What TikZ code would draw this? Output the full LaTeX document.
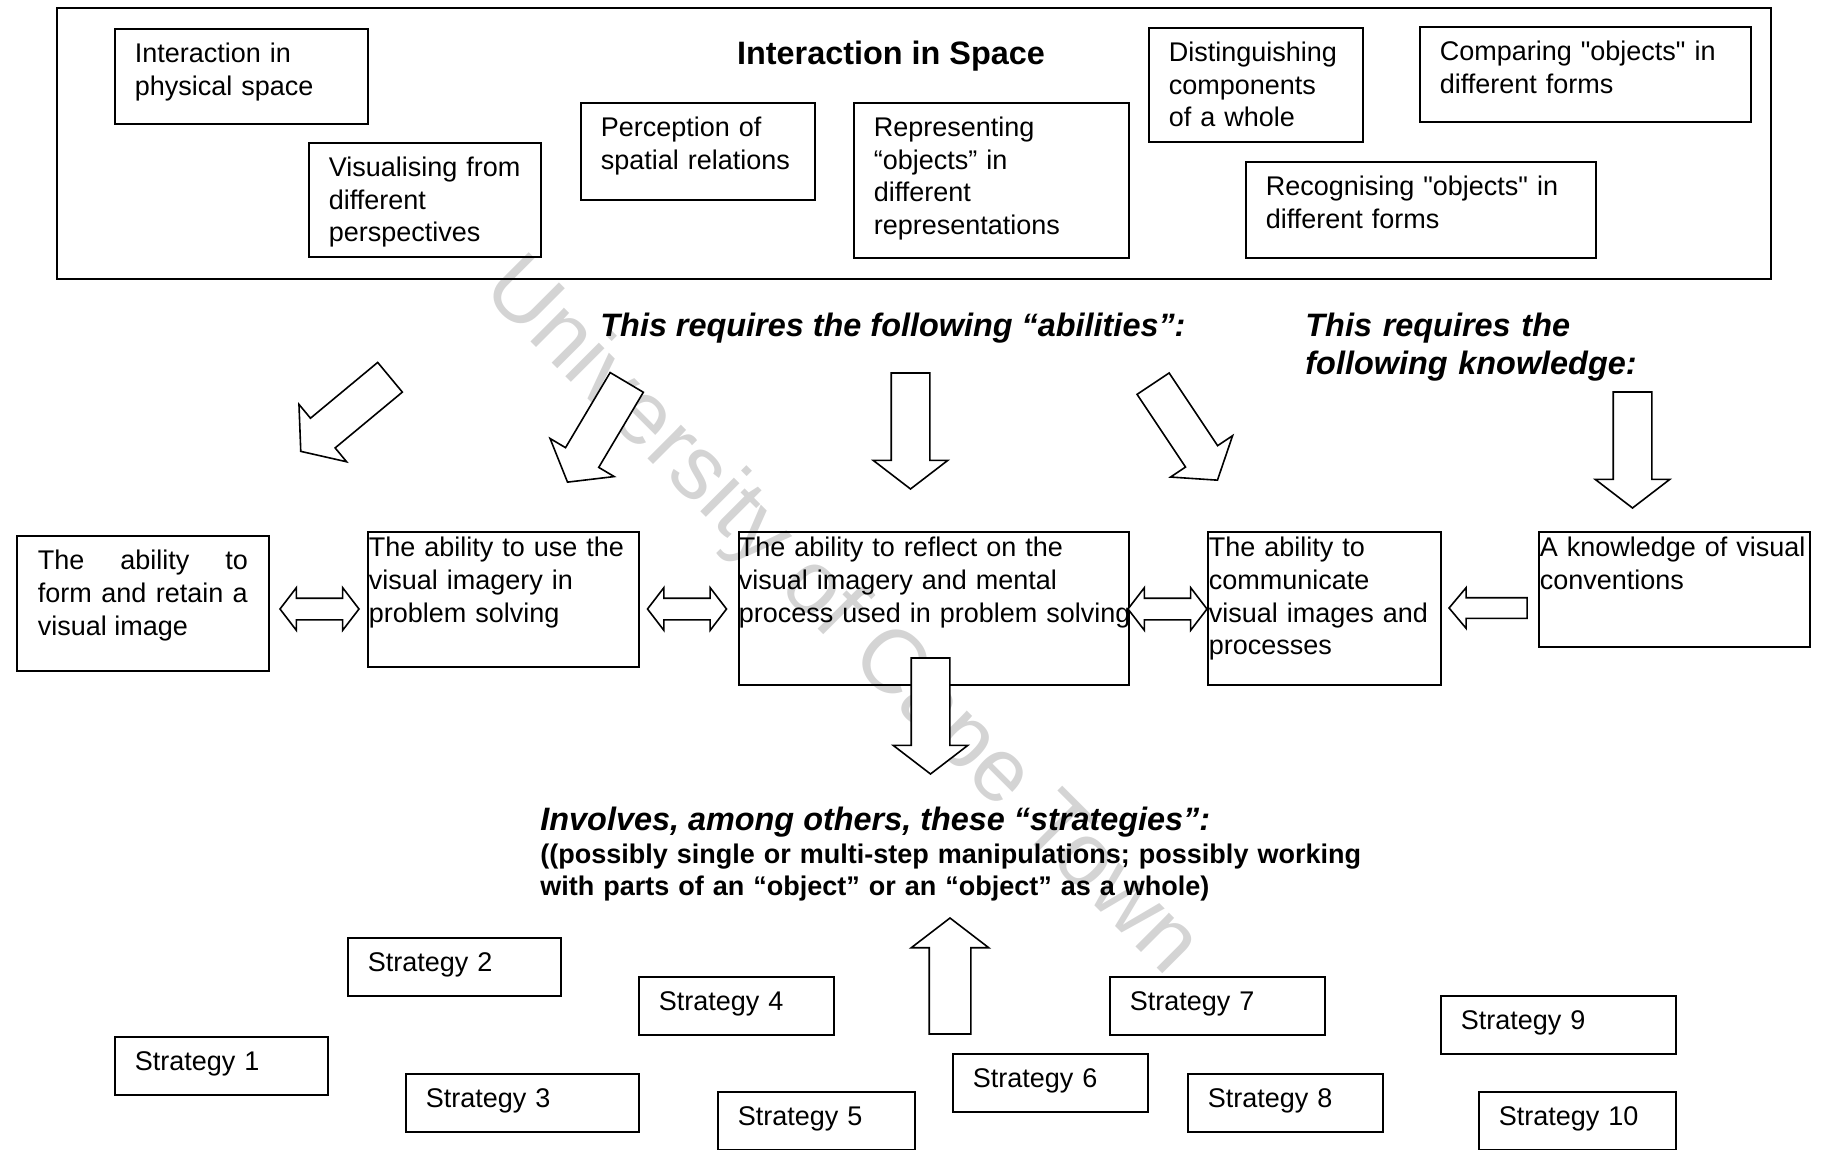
\documentclass[tikz,border=0pt]{standalone}
\usepackage{fontspec}
\setmainfont{Liberation Sans}
\usepackage{tikz}
\usetikzlibrary{shapes.arrows}
\tikzstyle{spaceframe} = [rectangle, draw=black, line width=0.8pt, minimum width=857pt, minimum height=135.5pt, anchor=north west]
\tikzstyle{topbox} = [rectangle, draw=black, line width=0.8pt, anchor=north west, align=left, inner xsep=10pt, inner ysep=7pt, text height=10pt]
\tikzstyle{abilitybox} = [rectangle, draw=black, line width=0.8pt, anchor=north west, align=left, inner xsep=0.5pt, inner ysep=2.5pt, text height=10pt]
\tikzstyle{strategybox} = [topbox, text depth=5pt]
\tikzstyle{heading} = [font=\bfseries\itshape\fontsize{16.2}{19}\selectfont, inner sep=0pt]
\tikzstyle{bigarrow} = [single arrow, draw=black, fill=white, line width=0.8pt, anchor=tip, minimum height=58pt, inner xsep=0pt, inner ysep=9.25pt, single arrow head extend=9pt, single arrow tip angle=105]
\tikzstyle{twoway} = [double arrow, draw=black, fill=white, line width=0.8pt, minimum height=39.5pt, inner xsep=0pt, inner ysep=5pt, double arrow head extend=5.25pt, double arrow tip angle=105]
\tikzstyle{oneway} = [single arrow, draw=black, fill=white, line width=0.8pt, anchor=tip, minimum height=39pt, inner xsep=0pt, inner ysep=4.75pt, single arrow head extend=5pt, single arrow tip angle=100]

\begin{document}
\begin{tikzpicture}[x=0.5pt, y=-0.5pt, font=\fontsize{13.5}{16.3}\selectfont]
\useasboundingbox (0,0) rectangle (1825,1150);
\node (watermark) [rotate=-45, text=black!17, font=\fontsize{45}{45}\selectfont] at (840,618) {University of Cape Town};
\node (space) [spaceframe] at (56,7) {};
\node (title) [font=\bfseries\fontsize{16.2}{19}\selectfont, anchor=base, inner sep=0pt] at (891,65) {Interaction in Space};
\node (physical) [topbox, text width=106.5pt, text depth=23.5pt] at (114,28) {Interaction in\\physical space};
\node (perspectives) [topbox, text width=96pt, text depth=33pt] at (308,142) {Visualising from\\different\\perspectives};
\node (perception) [topbox, text width=97pt, text depth=24.5pt] at (580,102) {Perception of\\spatial relations};
\node (representing) [topbox, text width=117.5pt, text depth=53.5pt] at (853,102) {Representing\\“objects” in\\different\\representations};
\node (components) [topbox, text width=87pt, text depth=33pt] at (1148,27) {Distinguishing\\components\\of a whole};
\node (comparing) [topbox, text width=145.5pt, text depth=23.5pt] at (1419,26) {Comparing \textquotedbl objects\textquotedbl\ in\\different forms};
\node (recognising) [topbox, text width=155pt, text depth=24pt] at (1245,161) {Recognising \textquotedbl objects\textquotedbl\ in\\different forms};

\node (abilhead) [heading, anchor=base west] at (600,336) {This requires the following “abilities”:};
\node (knowhead) [heading, anchor=north west, text width=180pt, text height=12pt] at (1305,312) {This requires the\\following knowledge:};

\node (formimage) [topbox, align=justify, inner xsep=10.5pt, text width=105pt, text depth=43.5pt] at (16,535) {The ability to\linebreak form and retain a\linebreak visual image};
\node (useimagery) [abilitybox, text width=134.5pt, text depth=52.5pt] at (367,531) {The ability to use the\\visual imagery in\\problem solving};
\node (reflect) [abilitybox, inner xsep=0pt, text width=195pt, text depth=61.5pt] at (738,531) {The ability to reflect on the\\visual imagery and mental\\\mbox{process used in problem solving}};
\node (communicate) [abilitybox, text width=115.5pt, text depth=61.5pt] at (1207,531) {The ability to\\communicate\\visual images and\\processes};
\node (conventions) [abilitybox, text width=134.5pt, text depth=42.5pt] at (1538,531) {A knowledge of visual\\conventions};

\node (toform) [bigarrow, rotate=-140.3] at (300,452) {};
\node (touse) [bigarrow, rotate=-120.7] at (567,483) {};
\node (toreflect) [bigarrow, rotate=-90] at (910.5,490) {};
\node (tocomm) [bigarrow, rotate=-56.3] at (1218,481) {};
\node (toconv) [bigarrow, rotate=-90] at (1632.5,509) {};
\node (formuse) [twoway] at (319.5,609) {};
\node (usereflect) [twoway] at (687,609) {};
\node (reflectcomm) [twoway] at (1167.5,609) {};
\node (convcomm) [oneway, rotate=180] at (1448,608) {};
\node (tostrat) [bigarrow, rotate=-90] at (930.5,775) {};

\node (strathead) [heading, font=\bfseries\fontsize{13.5}{16.3}\selectfont, anchor=north west, align=left, text width=440pt, text height=12pt] at (540,806) {{\fontsize{16.2}{19}\selectfont\itshape Involves, among others, these “strategies”:\par}((possibly single or multi-step manipulations; possibly working\\with parts of an “object” or an “object” as a whole)};
\node (fromstrat) [bigarrow, rotate=90, inner ysep=10pt] at (950,917) {};

\node (strat1) [strategybox, text width=86.5pt] at (114,1036) {Strategy 1};
\node (strat2) [strategybox, text width=86.5pt] at (347,937) {Strategy 2};
\node (strat3) [strategybox, text width=96.5pt] at (405,1073) {Strategy 3};
\node (strat4) [strategybox, text width=77.5pt] at (638,976) {Strategy 4};
\node (strat5) [strategybox, text width=78.5pt] at (717,1091) {Strategy 5};
\node (strat6) [strategybox, text width=77.5pt] at (952,1053) {Strategy 6};
\node (strat7) [strategybox, text width=87.5pt] at (1109,976) {Strategy 7};
\node (strat8) [strategybox, text width=77.5pt] at (1187,1073) {Strategy 8};
\node (strat9) [strategybox, text width=97.5pt] at (1440,995) {Strategy 9};
\node (strat10) [strategybox, text width=78.5pt] at (1478,1091) {Strategy 10};
\end{tikzpicture}
\end{document}
